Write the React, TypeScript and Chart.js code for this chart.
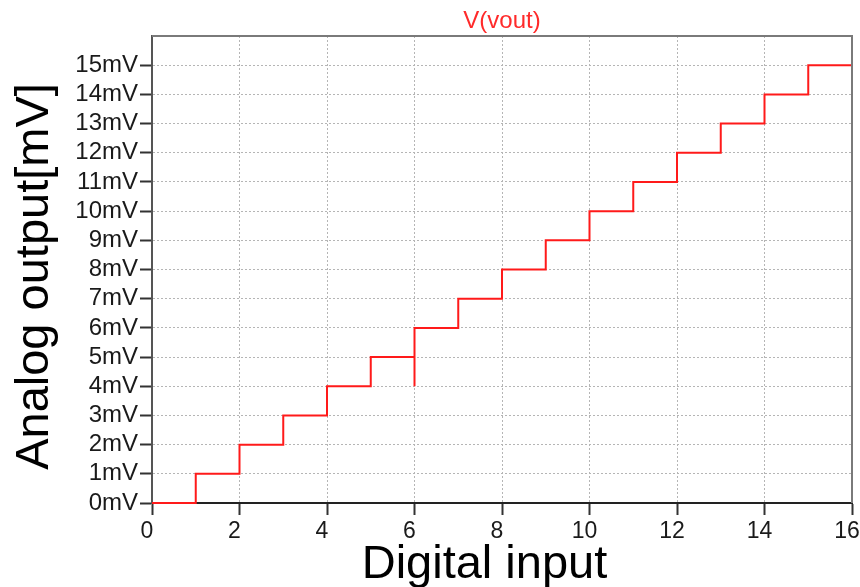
import React, { useEffect, useRef } from 'react';
import { Chart, registerables } from 'chart.js';

Chart.register(...registerables);

// ---- data ----
const digitalInput = [0, 1, 2, 3, 4, 5, 6, 6, 7, 8, 9, 10, 11, 12, 13, 14, 15, 16];
const analogOutputMv = [0, 1, 2, 3, 4, 5, 4, 6, 7, 8, 9, 10, 11, 12, 13, 14, 15, 15];
const seriesName = 'V(vout)';
const xTitle = 'Digital input';
const yTitle = 'Analog output[mV]';
const xMin = 0;
const xMax = 16;
const xStep = 2;
const yMin = 0;
const yMax = 16;
const yStep = 1;
const yUnit = 'mV';

const FONT = '"Liberation Sans", Arial, Helvetica, sans-serif';

const titlesPlugin = {
  id: 'titlesPlugin',
  afterDatasetsDraw(chart: any) {
    const { ctx, chartArea } = chart;
    ctx.save();
    ctx.strokeStyle = '#7a7a7a';
    ctx.lineWidth = 2;
    ctx.beginPath();
    ctx.moveTo(chartArea.left, chartArea.top);
    ctx.lineTo(chartArea.right, chartArea.top);
    ctx.lineTo(chartArea.right, chartArea.bottom);
    ctx.stroke();
    ctx.restore();
  },
  afterDraw(chart: any) {
    const { ctx, chartArea } = chart;
    const cx = (chartArea.left + chartArea.right) / 2;
    ctx.save();
    ctx.fillStyle = '#ff2a2a';
    ctx.font = `24px ${FONT}`;
    ctx.textAlign = 'center';
    ctx.textBaseline = 'alphabetic';
    ctx.fillText(seriesName, cx, chartArea.top - 8);
    ctx.fillStyle = '#000';
    ctx.font = `47px ${FONT}`;
    ctx.fillText(xTitle, cx - 17.5, 578);
    ctx.translate(48, 276.5);
    ctx.rotate(-Math.PI / 2);
    ctx.fillText(yTitle, 0, 0);
    ctx.restore();
  },
};

export default function App() {
  const ref = useRef<HTMLCanvasElement | null>(null);

  useEffect(() => {
    if (!ref.current) return;
    const points = digitalInput.map((x, i) => ({ x, y: analogOutputMv[i] }));
    const chart = new Chart(ref.current, {
      type: 'line',
      data: {
        datasets: [
          {
            label: seriesName,
            data: points,
            borderColor: '#ff1a1a',
            borderWidth: 2,
            pointRadius: 0,
            stepped: 'before',
            fill: false,
            clip: false as any,
          },
        ],
      },
      options: {
        animation: false,
        responsive: false,
        devicePixelRatio: 1,
        events: [],
        layout: { padding: { top: 36, right: 8, left: 0, bottom: 0 } },
        plugins: {
          legend: { display: false },
          tooltip: { enabled: false },
          title: { display: false },
        },
        scales: {
          x: {
            type: 'linear',
            position: 'bottom',
            min: xMin,
            max: xMax,
            ticks: {
              stepSize: xStep,
              color: '#1a1a1a',
              font: { family: FONT, size: 23 },
              padding: 3,
              labelOffset: -5,
              maxRotation: 0,
              autoSkip: false,
            },
            grid: {
              color: '#b5b5b5',
              lineWidth: 1,
              tickLength: 12,
              tickColor: '#333',
              tickWidth: 2,
            },
            border: { display: true, color: '#222', width: 2, dash: [2, 2] },
            afterFit: (s: any) => {
              s.height = 84;
              s.paddingLeft = 0;
              s.paddingRight = 0;
            },
          },
          y: {
            type: 'linear',
            min: yMin,
            max: yMax,
            ticks: {
              stepSize: yStep,
              autoSkip: false,
              color: '#1a1a1a',
              font: { family: FONT, size: 24 },
              padding: 2,
              callback: (v: any) => (v === yMax ? '' : `${v}${yUnit}`),
            },
            grid: {
              color: '#b5b5b5',
              lineWidth: 1,
              tickLength: 12,
              tickColor: (c: any) => (c.tick && c.tick.value === yMax ? 'rgba(0,0,0,0)' : '#333'),
              tickWidth: 2,
            },
            border: { display: true, color: '#555', width: 2, dash: [2, 2] },
            afterFit: (s: any) => {
              s.width = 152;
              s.paddingTop = 0;
              s.paddingBottom = 0;
            },
          },
        },
      } as any,
      plugins: [titlesPlugin],
    });
    return () => chart.destroy();
  }, []);

  return (
    <div style={{ position: 'absolute', left: 0, top: 0, width: 860, height: 587, background: '#fff' }}>
      <canvas ref={ref} width={860} height={587} style={{ display: 'block' }} />
    </div>
  );
}
